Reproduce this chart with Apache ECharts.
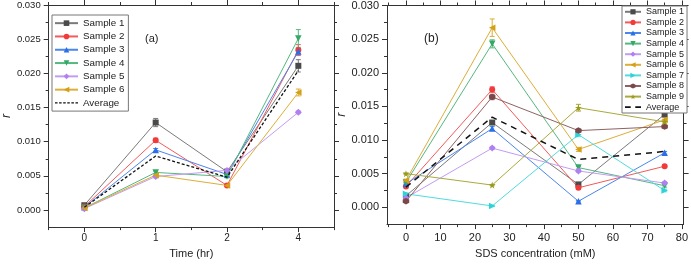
<!DOCTYPE html>
<html><head><meta charset="utf-8">
<script src="https://cdn.jsdelivr.net/npm/echarts@6/dist/echarts.min.js"></script>
<style>html,body{margin:0;padding:0;background:#fff}#c{width:691px;height:264px}</style>
</head><body><div id="c"></div>
<script>
// ---------- data: panel (a) ----------
const timeLabels = ['0', '1', '2', '4'];
const a1 = [0.0007, 0.0128, 0.0056, 0.0211];
const a2 = [0.0005, 0.0102, 0.0036, 0.0234];
const a3 = [0.0004, 0.0088, 0.0052, 0.0232];
const a4 = [0.0003, 0.0055, 0.0049, 0.0251];
const a5 = [0.0002, 0.0049, 0.0058, 0.0143];
const a6 = [0.0003, 0.0051, 0.0036, 0.0172];
const aAvg = [0.0004, 0.0079, 0.0048, 0.0204];
const ea1 = [0.0002, 0.0006, 0.0002, 0.0009];
const ea2 = [0.0001, 0.0003, 0.0001, 0.0008];
const ea3 = [0.0001, 0.0002, 0.0002, 0.0004];
const ea4 = [0.0001, 0.0002, 0.0002, 0.0013];
const ea5 = [0.0001, 0.0002, 0.0002, 0.0002];
const ea6 = [0.0001, 0.0002, 0.0001, 0.0005];
// ---------- data: panel (b) ----------
const sdsConc = [0, 25, 50, 75];
const b1 = [0.0017, 0.0126, 0.0034, 0.0138];
const b2 = [0.0031, 0.0175, 0.0029, 0.0061];
const b3 = [0.0035, 0.0117, 0.0009, 0.0081];
const b4 = [0.0037, 0.0243, 0.0059, 0.0032];
const b5 = [0.0014, 0.0088, 0.0054, 0.0036];
const b6 = [0.0040, 0.0267, 0.0086, 0.0130];
const b7 = [0.0020, 0.0002, 0.0108, 0.0025];
const b8 = [0.0009, 0.0164, 0.0114, 0.0120];
const b9 = [0.0050, 0.0033, 0.0148, 0.0127];
const bAvg = [0.0030, 0.0134, 0.0071, 0.0083];
const eb1 = [0.0002, 0.0003, 0.0002, 0.0002];
const eb2 = [0.0002, 0.0004, 0.0002, 0.0002];
const eb3 = [0.0002, 0.0003, 0.0001, 0.0002];
const eb4 = [0.0002, 0.0006, 0.0002, 0.0002];
const eb5 = [0.0001, 0.0002, 0.0002, 0.0002];
const eb6 = [0.0002, 0.0013, 0.0003, 0.0003];
const eb7 = [0.0001, 0.0001, 0.0003, 0.0002];
const eb8 = [0.0001, 0.0004, 0.0002, 0.0002];
const eb9 = [0.0001, 0.0001, 0.0005, 0.0002];
// ---------- ticks ----------
const yMajor = [0, 0.005, 0.010, 0.015, 0.020, 0.025, 0.030];
const yMinor = [0.0025, 0.0075, 0.0125, 0.0175, 0.0225, 0.0275];
const xbMajor = [0, 10, 20, 30, 40, 50, 60, 70, 80];
const xbMinor = [-5, 5, 15, 25, 35, 45, 55, 65, 75];

const names = ['Sample 1','Sample 2','Sample 3','Sample 4','Sample 5','Sample 6','Sample 7','Sample 8','Sample 9'];
const symCol = ['#4a4a4a','#f23a3a','#2a6fe6','#34a866','#b07ff0','#d4a017','#2ed3d6','#7a4848','#9a9a1c'];
const lineCol = ['#7a7a7a','#f55a5a','#4a86ec','#55b880','#c29cf4','#dcae3a','#50dcde','#8e6262','#aaaa3e'];
const TRI_DOWN = 'path://M0,0 L10,0 L5,8.66 Z';
const TRI_LEFT = 'path://M0,5 L8.66,0 L8.66,10 Z';
const TRI_RIGHT = 'path://M0,0 L8.66,5 L0,10 Z';
const HEX = 'path://M5,0 L9.33,2.5 L9.33,7.5 L5,10 L0.67,7.5 L0.67,2.5 Z';
const STAR = 'path://M5,0 L6.18,3.6 L10,3.6 L6.9,5.8 L8.1,9.5 L5,7.2 L1.9,9.5 L3.1,5.8 L0,3.6 L3.82,3.6 Z';
const syms = ['rect','circle','triangle',TRI_DOWN,'diamond',TRI_LEFT,TRI_RIGHT,HEX,STAR];
const symSize = [6,6,6.5,6.5,7,6.5,6.5,6.5,7];
// dashed legend icons (short dashes for (a), long dashes for (b))
const DASH_A = 'path://M0,0 L2.5,0 L2.5,1.3 L0,1.3 Z M4,0 L6.5,0 L6.5,1.3 L4,1.3 Z M8,0 L10.5,0 L10.5,1.3 L8,1.3 Z M12,0 L14.5,0 L14.5,1.3 L12,1.3 Z M16,0 L18.5,0 L18.5,1.3 L16,1.3 Z M20,0 L22.5,0 L22.5,1.3 L20,1.3 Z';
const DASH_B = 'path://M0,0 L5,0 L5,1.5 L0,1.5 Z M9,0 L14,0 L14,1.5 L9,1.5 Z';

const FONT = 'Liberation Sans, Arial, sans-serif';
const AX = '#333';

function xAxesA(){
  const base = {type:'category', gridIndex:0, data:timeLabels, boundaryGap:true, splitLine:{show:false}};
  const line = {show:true, onZero:false, lineStyle:{color:AX, width:1}};
  return [
    Object.assign({}, base, {position:'bottom', axisLine:line,
      axisTick:{show:true, inside:false, length:5, alignWithLabel:true, lineStyle:{color:AX}},
      axisLabel:{show:true, fontSize:10, color:'#222', fontFamily:FONT, margin:6},
      name:'Time (hr)', nameLocation:'middle', nameGap:13, nameTextStyle:{fontSize:11, color:'#222', fontFamily:FONT}}),
    Object.assign({}, base, {position:'bottom', axisLine:{show:false, onZero:false},
      axisTick:{show:true, inside:false, length:3, alignWithLabel:false, lineStyle:{color:AX}}, axisLabel:{show:false}}),
    Object.assign({}, base, {position:'top', axisLine:line,
      axisTick:{show:true, inside:false, length:5, alignWithLabel:true, lineStyle:{color:AX}}, axisLabel:{show:false}}),
    Object.assign({}, base, {position:'top', axisLine:{show:false, onZero:false},
      axisTick:{show:true, inside:false, length:3, alignWithLabel:false, lineStyle:{color:AX}}, axisLabel:{show:false}})
  ];
}
function xAxesB(){
  const base = {type:'value', gridIndex:1, min:-5.5, max:80.5, splitLine:{show:false}};
  const line = {show:true, onZero:false, lineStyle:{color:AX, width:1}};
  return [
    Object.assign({}, base, {position:'bottom', axisLine:line,
      axisTick:{show:true, inside:false, length:5, customValues:xbMajor, lineStyle:{color:AX}},
      axisLabel:{show:true, customValues:xbMajor, fontSize:11, color:'#222', fontFamily:FONT, margin:8},
      name:'SDS concentration (mM)', nameLocation:'middle', nameGap:17, nameTextStyle:{fontSize:11, color:'#222', fontFamily:FONT}}),
    Object.assign({}, base, {position:'bottom', axisLine:{show:false, onZero:false},
      axisTick:{show:true, inside:false, length:3, customValues:xbMinor, lineStyle:{color:AX}}, axisLabel:{show:false}}),
    Object.assign({}, base, {position:'top', axisLine:line,
      axisTick:{show:true, inside:false, length:5, customValues:xbMajor, lineStyle:{color:AX}}, axisLabel:{show:false}}),
    Object.assign({}, base, {position:'top', axisLine:{show:false, onZero:false},
      axisTick:{show:true, inside:false, length:3, customValues:xbMinor, lineStyle:{color:AX}}, axisLabel:{show:false}})
  ];
}
function yAxes(gi, fs, gap){
  const base = {type:'value', gridIndex:gi, min:-0.0025, max:0.030, splitLine:{show:false}};
  const line = {show:true, onZero:false, lineStyle:{color:AX, width:1}};
  return [
    Object.assign({}, base, {position:'left', axisLine:line,
      axisTick:{show:true, inside:false, length:5, customValues:yMajor, lineStyle:{color:AX}},
      axisLabel:{show:true, customValues:yMajor, formatter:v=>v.toFixed(3), fontSize:fs, color:'#222', fontFamily:FONT, margin:8},
      name:'r', nameLocation:'middle', nameGap:gap, nameTextStyle:{fontSize:12, fontStyle:'italic', color:'#222', fontFamily:FONT}}),
    Object.assign({}, base, {position:'left', axisLine:{show:false, onZero:false},
      axisTick:{show:true, inside:false, length:3, customValues:yMinor, lineStyle:{color:AX}}, axisLabel:{show:false}}),
    Object.assign({}, base, {position:'right', axisLine:line,
      axisTick:{show:true, inside:false, length:5, customValues:yMajor, lineStyle:{color:AX}}, axisLabel:{show:false}}),
    Object.assign({}, base, {position:'right', axisLine:{show:false, onZero:false},
      axisTick:{show:true, inside:false, length:3, customValues:yMinor, lineStyle:{color:AX}}, axisLabel:{show:false}})
  ];
}

function errSeries(xs, ys, es, color, xi, yi){
  return {
    type:'custom', xAxisIndex:xi, yAxisIndex:yi, silent:true, z:1,
    data: xs.map((x, i) => [x, ys[i], es[i]]),
    renderItem: function(params, api){
      const x = api.value(0), y = api.value(1), e = api.value(2);
      const hi = api.coord([x, y + e]), lo = api.coord([x, y - e]);
      const w = 2.5, st = {stroke:color, lineWidth:1};
      return {type:'group', children:[
        {type:'line', shape:{x1:hi[0], y1:hi[1], x2:lo[0], y2:lo[1]}, style:st},
        {type:'line', shape:{x1:hi[0]-w, y1:hi[1], x2:hi[0]+w, y2:hi[1]}, style:st},
        {type:'line', shape:{x1:lo[0]-w, y1:lo[1], x2:lo[0]+w, y2:lo[1]}, style:st}
      ]};
    }
  };
}
function lineSeries(name, xs, ys, k, xi, yi){
  return {
    type:'line', name, xAxisIndex:xi, yAxisIndex:yi, z:2,
    data: xs.map((x, i) => [x, ys[i]]),
    symbol: syms[k], symbolSize: symSize[k], showSymbol:true,
    itemStyle:{color:symCol[k]}, lineStyle:{color:lineCol[k], width:1},
    emphasis:{disabled:true}, animation:false
  };
}

const aIdx = [0,1,2,3];
const aSeries = [a1,a2,a3,a4,a5,a6];
const aErr = [ea1,ea2,ea3,ea4,ea5,ea6];
const bSeries = [b1,b2,b3,b4,b5,b6,b7,b8,b9];
const bErr = [eb1,eb2,eb3,eb4,eb5,eb6,eb7,eb8,eb9];

const series = [];
aSeries.forEach((d, k) => {
  series.push(errSeries(aIdx, d, aErr[k], lineCol[k], 0, 0));
  series.push(lineSeries(names[k], aIdx, d, k, 0, 0));
});
series.push({type:'line', name:'Average', xAxisIndex:0, yAxisIndex:0, z:3, data:aIdx.map((x,i)=>[x,aAvg[i]]),
  symbol:'none', lineStyle:{color:'#111', width:1.3, type:[3,2]}, itemStyle:{color:'#111'}, animation:false});
bSeries.forEach((d, k) => {
  series.push(errSeries(sdsConc, d, bErr[k], lineCol[k], 4, 4));
  series.push(lineSeries(names[k], sdsConc, d, k, 4, 4));
});
series.push({type:'line', name:'Average ', xAxisIndex:4, yAxisIndex:4, z:3, data:sdsConc.map((x,i)=>[x,bAvg[i]]),
  symbol:'none', lineStyle:{color:'#111', width:1.5, type:[6,5]}, itemStyle:{color:'#111'}, animation:false});

const chart = echarts.init(document.getElementById('c'), null, {renderer:'canvas'});
chart.setOption({
  animation:false,
  backgroundColor:'#fff',
  textStyle:{fontFamily:FONT},
  grid:[
    {left:41, right:357, top:5, bottom:25},
    {left:387, right:4, top:4, bottom:30}
  ],
  xAxis: xAxesA().concat(xAxesB()),
  yAxis: yAxes(0, 9.5, 30).concat(yAxes(1, 11, 30)),
  title:[
    {text:'(a)', left:140, top:28, textStyle:{fontSize:11, fontWeight:'normal', color:'#222', fontFamily:FONT}},
    {text:'(b)', left:419, top:28, textStyle:{fontSize:12, fontWeight:'normal', color:'#222', fontFamily:FONT}}
  ],
  legend:[
    {data:['Sample 1','Sample 2','Sample 3','Sample 4','Sample 5','Sample 6',{name:'Average', icon:DASH_A, itemStyle:{color:'#111'}}],
     orient:'vertical', left:52, top:15, itemWidth:23, itemHeight:7, itemGap:3,
     padding:[3,4,3,2], borderColor:'#777', borderWidth:1, backgroundColor:'#fff',
     textStyle:{fontSize:9.8, color:'#222', fontFamily:FONT, lineHeight:10.3}, selectedMode:false},
    {data:['Sample 1','Sample 2','Sample 3','Sample 4','Sample 5','Sample 6','Sample 7','Sample 8','Sample 9',{name:'Average ', icon:DASH_B, itemStyle:{color:'#111'}}],
     orient:'vertical', left:622, top:6, itemWidth:16, itemHeight:6.5, itemGap:1,
     padding:[1,3,1,2], borderColor:'#777', borderWidth:1, backgroundColor:'#fff',
     textStyle:{fontSize:9, color:'#222', fontFamily:FONT, lineHeight:9.6}, selectedMode:false}
  ],
  series
});
</script></body></html>
